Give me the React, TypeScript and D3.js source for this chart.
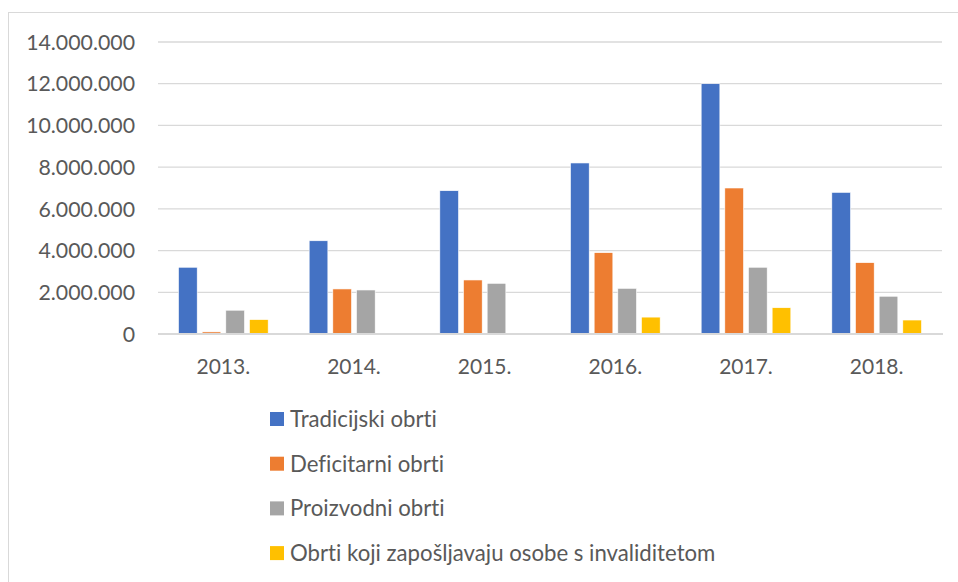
import * as d3 from 'd3'

const years = ['2013.', '2014.', '2015.', '2016.', '2017.', '2018.']
const seriesNames = [
  'Tradicijski obrti',
  'Deficitarni obrti',
  'Proizvodni obrti',
  'Obrti koji zapošljavaju osobe s invaliditetom'
]
const seriesColors = ['#4472C4', '#ED7D31', '#A5A5A5', '#FFC000']

const tradicijski = [3200000, 4470000, 6870000, 8200000, 12000000, 6790000]
const deficitarni = [100000, 2160000, 2590000, 3900000, 7000000, 3420000]
const proizvodni = [1140000, 2110000, 2430000, 2190000, 3200000, 1810000]
const invaliditet = [690000, 0, 0, 810000, 1260000, 670000]

const yTicks = [0, 2000000, 4000000, 6000000, 8000000, 10000000, 12000000, 14000000]

const W = 958
const H = 582
const margin = { top: 42, right: 16, bottom: 248, left: 158 }
const FONT = 'Lato, "Open Sans", sans-serif'
const TEXT = '#595959'
const noLig = { fontVariantLigatures: 'none' as const }

const fmt = (v: number) => (v === 0 ? '0' : d3.format(',')(v).replace(/,/g, '.'))

export default function App() {
  const values = [tradicijski, deficitarni, proizvodni, invaliditet]
  const innerW = W - margin.left - margin.right
  const innerH = H - margin.top - margin.bottom

  const x0 = d3.scaleBand<string>().domain(years).range([margin.left, margin.left + innerW]).padding(0)
  const groupPad = 20.5
  const x1 = d3
    .scaleBand<string>()
    .domain(seriesNames)
    .range([groupPad, x0.bandwidth() - groupPad])
    .paddingInner(0.21)
  const y = d3.scaleLinear().domain([0, 14000000]).range([margin.top + innerH, margin.top])

  return (
    <svg width={W} height={H} style={{ position: 'absolute', left: 0, top: 0, background: '#fff' }}>
      <rect x={8.5} y={12.5} width={W + 10} height={H + 10} fill="#fff" stroke="#d9d9d9" strokeWidth={1} />
      {yTicks.map(t => (
        <g key={t}>
          {t !== 0 && (
            <line x1={margin.left} x2={margin.left + innerW} y1={y(t)} y2={y(t)} stroke="#d9d9d9" strokeWidth={1.3} />
          )}
          <text x={135} y={y(t)} dy="0.36em" textAnchor="end" fontFamily={FONT} fontSize={21.3} fill={TEXT}>
            {fmt(t)}
          </text>
        </g>
      ))}
      {years.map((yr, i) => (
        <g key={yr} transform={`translate(${x0(yr)},0)`}>
          {seriesNames.map((s, j) => {
            const v = values[j][i]
            if (!v) return null
            return (
              <rect
                key={s}
                x={x1(s)}
                y={y(v)}
                width={x1.bandwidth()}
                height={y(0) - y(v)}
                fill={seriesColors[j]}
                stroke="#fff"
                strokeWidth={0.6}
              />
            )
          })}
          <text x={x0.bandwidth() / 2} y={373.5} textAnchor="middle" fontFamily={FONT} fontSize={21} fill={TEXT}>
            {yr}
          </text>
        </g>
      ))}
      <line x1={margin.left} x2={margin.left + innerW + 1} y1={y(0)} y2={y(0)} stroke="#d9d9d9" strokeWidth={2} />
      {seriesNames.map((s, j) => (
        <g key={s} transform={`translate(270,${419 + j * 44.7})`}>
          <rect x={0} y={-7} width={14} height={14} fill={seriesColors[j]} />
          <text x={20} y={0} dy="0.36em" fontFamily={FONT} fontSize={22.2} fill={TEXT} style={noLig}>
            {s}
          </text>
        </g>
      ))}
    </svg>
  )
}
